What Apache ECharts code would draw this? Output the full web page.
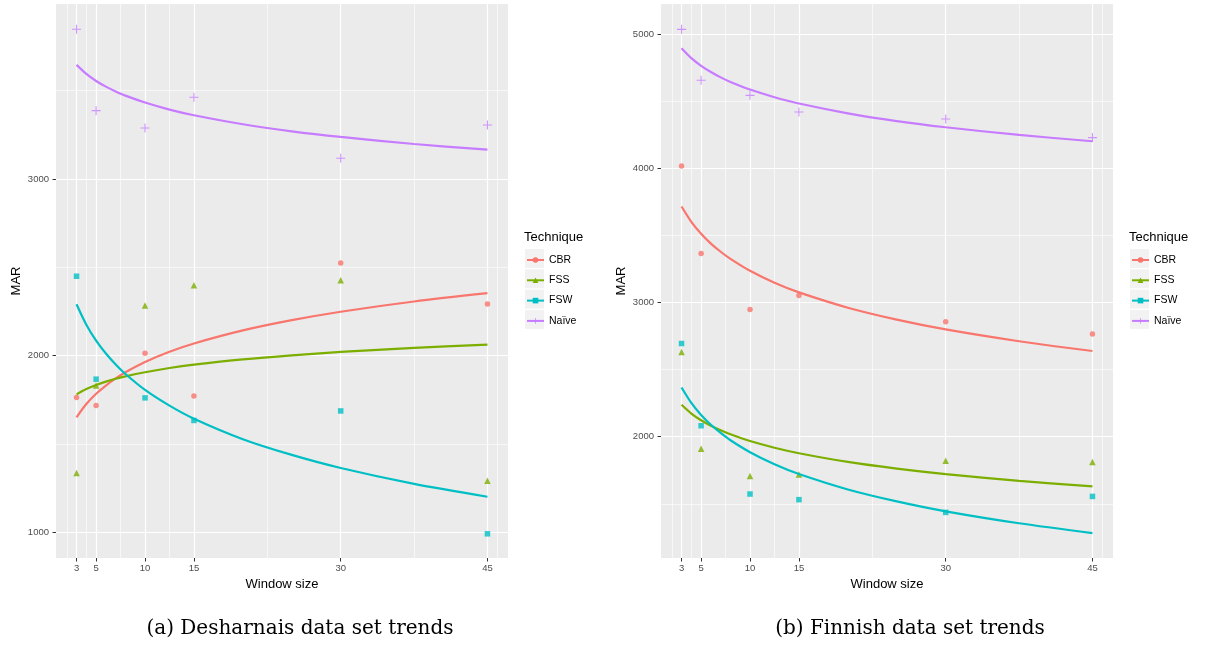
<!DOCTYPE html>
<html>
<head>
<meta charset="utf-8">
<script src="https://cdn.jsdelivr.net/npm/echarts@6/dist/echarts.min.js"></script>
<style>
html,body{margin:0;padding:0;background:#fff;}
#chart{width:1214px;height:645px;}
</style>
</head>
<body>
<div id="chart"></div>
<script>
// ---- data ----
const techniques = ['CBR', 'FSS', 'FSW', 'Naïve'];
const windowSizes = [3, 5, 10, 15, 30, 45];
const xTickLabels = [3, 5, 10, 15, 30, 45];
const trendX = [3, 4, 5, 6, 7, 8, 10, 12.5, 15, 20, 25, 30, 37.5, 45];

// (a) Desharnais
const desCBR   = [1762, 1717, 2013, 1771, 2524, 2292];
const desFSS   = [1335, 1830, 2283, 2398, 2426, 1290];
const desFSW   = [2449, 1866, 1760, 1632, 1686, 990];
const desNaive = [3848, 3387, 3289, 3463, 3117, 3306];
const desCBRTrend   = [1650, 1725, 1783, 1830, 1870, 1905, 1963, 2021, 2068, 2142, 2200, 2248, 2306, 2353];
const desFSSTrend   = [1780, 1810, 1833, 1852, 1868, 1882, 1905, 1929, 1948, 1978, 2001, 2020, 2043, 2062];
const desFSWTrend   = [2290, 2174, 2084, 2011, 1949, 1895, 1805, 1716, 1642, 1526, 1437, 1363, 1273, 1200];
const desNaiveTrend = [3646, 3595, 3555, 3523, 3496, 3472, 3433, 3393, 3361, 3310, 3270, 3238, 3198, 3166];
const desYTicks = [1000, 2000, 3000];

// (b) Finnish
const finCBR   = [4018, 3366, 2948, 3052, 2858, 2765];
const finFSS   = [2631, 1911, 1707, 1719, 1821, 1811];
const finFSW   = [2695, 2082, 1573, 1531, 1436, 1555];
const finNaive = [5037, 4657, 4545, 4421, 4369, 4230];
const finCBRTrend   = [3716, 3602, 3513, 3440, 3379, 3326, 3237, 3148, 3076, 2962, 2873, 2800, 2712, 2639];
const finFSSTrend   = [2238, 2173, 2123, 2082, 2048, 2018, 1968, 1918, 1877, 1812, 1762, 1721, 1671, 1630];
const finFSWTrend   = [2367, 2252, 2162, 2089, 2028, 1974, 1885, 1795, 1722, 1607, 1518, 1444, 1355, 1282];
const finNaiveTrend = [4896, 4822, 4765, 4719, 4679, 4645, 4588, 4531, 4484, 4411, 4353, 4307, 4250, 4203];
const finYTicks = [2000, 3000, 4000, 5000];

const captions = ['(a) Desharnais data set trends', '(b) Finnish data set trends'];

// ---- styling ----
const colors = {'CBR': '#F8766D', 'FSS': '#7CAE00', 'FSW': '#00BFC4', 'Naïve': '#C77CFF'};
const plusPath = 'path://M4.4,0h1.2v4.4h4.4v1.2h-4.4v4.4h-1.2v-4.4h-4.4v-1.2h4.4z';
const symbols = {'CBR': 'circle', 'FSS': 'triangle', 'FSW': 'rect', 'Naïve': plusPath};
const symSizes = {'CBR': 5.5, 'FSS': 6.5, 'FSW': 5.5, 'Naïve': 9};
const FONT = 'Liberation Sans';

const panels = [
  {left: 56, yMin: 853, yMax: 3991, yTicks: desYTicks, yMinor: [1500, 2500, 3500],
   pts: [desCBR, desFSS, desFSW, desNaive], trends: [desCBRTrend, desFSSTrend, desFSWTrend, desNaiveTrend],
   legendLeft: 526, capX: 300},
  {left: 661, yMin: 1096, yMax: 5226, yTicks: finYTicks, yMinor: [1500, 2500, 3500, 4500],
   pts: [finCBR, finFSS, finFSW, finNaive], trends: [finCBRTrend, finFSSTrend, finFSWTrend, finNaiveTrend],
   legendLeft: 1131, capX: 910}
];
const xMinor = [2, 4, 7.5, 12.5, 22.5, 37.5, 46];

const grids = [], xAxes = [], yAxes = [], series = [], legends = [], graphics = [];

panels.forEach((p, gi) => {
  grids.push({left: p.left, top: 4, width: 452, height: 554, show: true,
    backgroundColor: '#EBEBEB', borderWidth: 0, containLabel: false});
  xAxes.push({type: 'value', gridIndex: gi, min: 0.9, max: 47.1,
    name: 'Window size', nameLocation: 'middle', nameGap: 20,
    nameTextStyle: {fontFamily: FONT, fontSize: 13, color: '#000'},
    axisLine: {show: false}, splitLine: {show: false},
    axisTick: {show: true, length: 3.5, lineStyle: {color: '#333', width: 1}, customValues: xTickLabels},
    axisLabel: {fontFamily: FONT, fontSize: 9.5, color: '#4D4D4D', margin: 5, customValues: xTickLabels,
      formatter: v => String(v)}});
  yAxes.push({type: 'value', gridIndex: gi, min: p.yMin, max: p.yMax,
    name: 'MAR', nameLocation: 'middle', nameGap: 33,
    nameTextStyle: {fontFamily: FONT, fontSize: 13, color: '#000'},
    axisLine: {show: false}, splitLine: {show: false},
    axisTick: {show: true, length: 3.5, lineStyle: {color: '#333', width: 1}, customValues: p.yTicks},
    axisLabel: {fontFamily: FONT, fontSize: 9.5, color: '#4D4D4D', margin: 7, customValues: p.yTicks,
      formatter: v => String(v)}});

  // grid lines via markLine on a helper series
  const ml = [];
  p.yMinor.forEach(v => ml.push({yAxis: v, lineStyle: {width: 0.6}}));
  xMinor.forEach(v => ml.push({xAxis: v, lineStyle: {width: 0.6}}));
  p.yTicks.forEach(v => ml.push({yAxis: v, lineStyle: {width: 1.2}}));
  xTickLabels.forEach(v => ml.push({xAxis: v, lineStyle: {width: 1.2}}));
  series.push({type: 'line', name: '_grid' + gi, xAxisIndex: gi, yAxisIndex: gi, data: [], z: 1,
    silent: true, animation: false,
    markLine: {z: 1, silent: true, symbol: ['none', 'none'], animation: false, label: {show: false},
      lineStyle: {color: '#FFFFFF', type: 'solid'}, emphasis: {disabled: true}, data: ml}});

  techniques.forEach((t, ti) => {
    series.push({type: 'line', name: t, xAxisIndex: gi, yAxisIndex: gi,
      data: trendX.map((x, i) => [x, p.trends[ti][i]]),
      smooth: 0.3, showSymbol: false, symbol: symbols[t], symbolSize: symSizes[t],
      lineStyle: {color: colors[t], width: 2.2}, itemStyle: {color: colors[t]},
      z: 4, animation: false, silent: true});
    series.push({type: 'scatter', name: t, xAxisIndex: gi, yAxisIndex: gi,
      data: windowSizes.map((x, i) => [x, p.pts[ti][i]]),
      symbol: symbols[t], symbolSize: symSizes[t],
      itemStyle: {color: colors[t]}, z: 3, animation: false, silent: true});
  });

  legends.push({orient: 'vertical', left: p.legendLeft, top: 254.5, padding: 0,
    itemWidth: 17, itemHeight: 7, itemGap: 9.3,
    data: techniques, selectedMode: false,
    textStyle: {fontFamily: FONT, fontSize: 10.5, color: '#000'}});

  // legend key backgrounds & title
  techniques.forEach((t, ti) => {
    graphics.push({type: 'rect', left: p.legendLeft - 1, top: 249 + ti * 20.3, z: -1,
      shape: {width: 19, height: 19}, style: {fill: '#F2F2F2'}, silent: true});
  });
  graphics.push({type: 'text', left: p.legendLeft - 2, top: 231,
    style: {text: 'Technique', fontFamily: FONT, fontSize: 13, fill: '#000'}});
  graphics.push({type: 'text', x: p.capX, y: 629,
    style: {text: captions[gi], fontFamily: 'DejaVu Serif', fontSize: 20, fill: '#000',
      textAlign: 'center', textVerticalAlign: 'middle'}});
});

const chart = echarts.init(document.getElementById('chart'), null, {renderer: 'canvas'});
chart.setOption({
  backgroundColor: '#FFFFFF',
  animation: false,
  grid: grids, xAxis: xAxes, yAxis: yAxes, series: series, legend: legends, graphic: graphics
});
</script>
</body>
</html>
